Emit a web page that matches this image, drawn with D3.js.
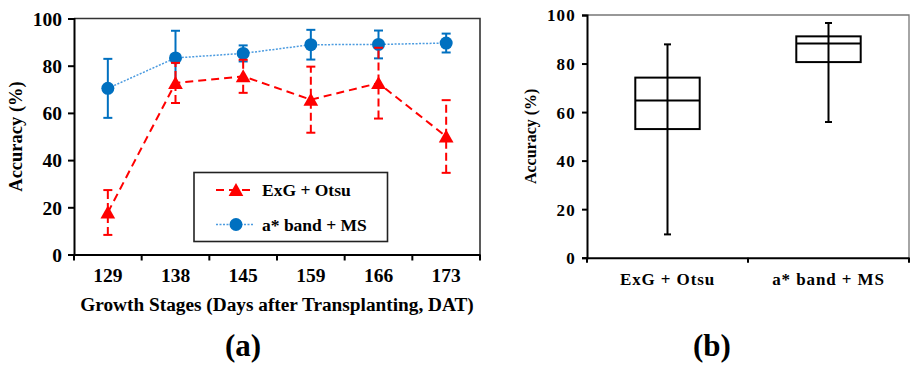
<!DOCTYPE html>
<html>
<head>
<meta charset="utf-8">
<script src="https://cdn.jsdelivr.net/npm/d3@7"></script>
<style>
  body { margin: 0; background: #fff; }
  svg text { font-family: "Liberation Serif", "Times New Roman", serif; font-weight: bold; fill: #000; }
</style>
</head>
<body>
<svg id="chart" width="910" height="365"></svg>
<script>
// panel (a) data
const stages = ["129", "138", "145", "159", "166", "173"];
const exgMean = [17.8, 72.7, 75.5, 65.6, 72.6, 50.0];
const exgSd = [9.5, 8.5, 7.0, 14.0, 15.0, 15.4];
const msMean = [70.4, 83.3, 85.2, 88.9, 89.0, 89.6];
const msSd = [12.5, 11.5, 3.4, 6.3, 5.9, 4.0];
const yTicks = [0, 20, 40, 60, 80, 100];

// panel (b) data
const methods = ["ExG + Otsu", "a* band + MS"];
const boxMin = [9.6, 55.9];
const boxQ1 = [53.0, 80.6];
const boxMedian = [64.8, 88.3];
const boxQ3 = [74.2, 91.2];
const boxMax = [87.9, 96.7];

const red = "#ff0000";
const blue = "#0070c0";
const blueLine = "#4b9be0";

const svg = d3.select("#chart");

// ---------- panel (a) ----------
const xA = d3.scaleBand().domain(stages).range([74, 480]);
const yA = d3.scaleLinear().domain([0, 100]).range([254.5, 18.5]);

const gA = svg.append("g");

// frame (top and right)
gA.append("path")
    .attr("d", `M${xA.range()[0]},${yA(100)}H${xA.range()[1]}V${yA(0)}`)
    .attr("fill", "none")
    .attr("stroke", "#333")
    .attr("stroke-width", 1.6);

// y axis
const yAxisA = gA.append("g")
    .attr("transform", `translate(${xA.range()[0]},0)`)
    .call(d3.axisLeft(yA).tickValues(yTicks).tickSize(6).tickPadding(6));
yAxisA.select(".domain").attr("stroke", "#000").attr("stroke-width", 2);
yAxisA.selectAll(".tick line").attr("stroke", "#000").attr("stroke-width", 2);
yAxisA.selectAll(".tick text").style("font-size", "19.5px").attr("dy", "0.35em");

// x axis (ticks between categories)
const xAxisA = gA.append("g")
    .attr("transform", `translate(0,${yA(0)})`)
    .call(d3.axisBottom(xA).tickSize(0).tickPadding(14));
xAxisA.select(".domain").attr("stroke", "#000").attr("stroke-width", 2);
xAxisA.selectAll(".tick text").style("font-size", "19.5px");
const bounds = stages.map(s => xA(s)).concat([xA.range()[1]]);
gA.selectAll(".xtickA")
    .data(bounds)
    .join("line")
    .attr("x1", d => d).attr("x2", d => d)
    .attr("y1", yA(0)).attr("y2", yA(0) + 6)
    .attr("stroke", "#000").attr("stroke-width", 2);

// axis titles
gA.append("text")
    .attr("transform", `translate(22,${(yA(0) + yA(100)) / 2}) rotate(-90)`)
    .attr("text-anchor", "middle")
    .style("font-size", "18.5px")
    .text("Accuracy (%)");
gA.append("text")
    .attr("x", 277).attr("y", 311)
    .attr("text-anchor", "middle")
    .style("font-size", "19.3px")
    .text("Growth Stages (Days after Transplanting, DAT)");
gA.append("text")
    .attr("x", 243).attr("y", 356)
    .attr("text-anchor", "middle")
    .style("font-size", "31px")
    .text("(a)");

const cx = s => xA(s) + xA.bandwidth() / 2;
const tri = (x, y, r) => `M${x},${y - r}L${x + r * 1.05},${y + r * 0.85}L${x - r * 1.05},${y + r * 0.85}Z`;

// series lines
const lineA = d3.line().x(d => cx(d.s)).y(d => yA(d.v));
const exgPts = stages.map((s, i) => ({ s, v: exgMean[i], sd: exgSd[i] }));
const msPts = stages.map((s, i) => ({ s, v: msMean[i], sd: msSd[i] }));

// MS error bars (solid)
const msErr = gA.append("g").selectAll("g").data(msPts).join("g");
msErr.append("line")
    .attr("x1", d => cx(d.s)).attr("x2", d => cx(d.s))
    .attr("y1", d => yA(d.v - d.sd)).attr("y2", d => yA(d.v + d.sd))
    .attr("stroke", blue).attr("stroke-width", 2);
msErr.selectAll(".cap")
    .data(d => [d.v - d.sd, d.v + d.sd].map(v => ({ s: d.s, v })))
    .join("line")
    .attr("x1", d => cx(d.s) - 4.5).attr("x2", d => cx(d.s) + 4.5)
    .attr("y1", d => yA(d.v)).attr("y2", d => yA(d.v))
    .attr("stroke", blue).attr("stroke-width", 2);

gA.append("path")
    .datum(msPts)
    .attr("d", lineA)
    .attr("fill", "none")
    .attr("stroke", blueLine)
    .attr("stroke-width", 1.5)
    .attr("stroke-dasharray", "2,1.5");

gA.append("g").selectAll("circle")
    .data(msPts)
    .join("circle")
    .attr("cx", d => cx(d.s)).attr("cy", d => yA(d.v))
    .attr("r", 6.5)
    .attr("fill", blue);

// ExG error bars (dashed)
const exgErr = gA.append("g").selectAll("g").data(exgPts).join("g");
exgErr.append("line")
    .attr("x1", d => cx(d.s)).attr("x2", d => cx(d.s))
    .attr("y1", d => yA(d.v - d.sd)).attr("y2", d => yA(d.v + d.sd))
    .attr("stroke", red).attr("stroke-width", 2).attr("stroke-dasharray", "8,4");
exgErr.selectAll(".cap")
    .data(d => [d.v - d.sd, d.v + d.sd].map(v => ({ s: d.s, v })))
    .join("line")
    .attr("x1", d => cx(d.s) - 4.5).attr("x2", d => cx(d.s) + 4.5)
    .attr("y1", d => yA(d.v)).attr("y2", d => yA(d.v))
    .attr("stroke", red).attr("stroke-width", 2);

gA.append("path")
    .datum(exgPts)
    .attr("d", lineA)
    .attr("fill", "none")
    .attr("stroke", red)
    .attr("stroke-width", 2)
    .attr("stroke-dasharray", "8,5");

gA.append("g").selectAll("path")
    .data(exgPts)
    .join("path")
    .attr("d", d => tri(cx(d.s), yA(d.v), 7))
    .attr("fill", red);

// legend
const leg = gA.append("g");
leg.append("rect")
    .attr("x", 194).attr("y", 172.5).attr("width", 193.5).attr("height", 69)
    .attr("fill", "#fff").attr("stroke", "#222").attr("stroke-width", 1.6);
leg.append("line")
    .attr("x1", 216).attr("x2", 254).attr("y1", 190).attr("y2", 190)
    .attr("stroke", red).attr("stroke-width", 2).attr("stroke-dasharray", "8,5");
leg.append("path").attr("d", tri(236, 190, 7)).attr("fill", red);
leg.append("text").attr("x", 262).attr("y", 196).style("font-size", "17.5px").text("ExG + Otsu");
leg.append("line")
    .attr("x1", 216).attr("x2", 254).attr("y1", 224.5).attr("y2", 224.5)
    .attr("stroke", blueLine).attr("stroke-width", 1.5).attr("stroke-dasharray", "2,1.5");
leg.append("circle").attr("cx", 236).attr("cy", 224.5).attr("r", 6.5).attr("fill", blue);
leg.append("text").attr("x", 262).attr("y", 230.5).style("font-size", "17.5px").text("a* band + MS");

// ---------- panel (b) ----------
const xB = d3.scaleBand().domain(methods).range([587, 909]);
const yB = d3.scaleLinear().domain([0, 100]).range([257.7, 15]);
const gB = svg.append("g");

gB.append("path")
    .attr("d", `M${xB.range()[0]},${yB(100)}H${xB.range()[1]}V${yB(0)}`)
    .attr("fill", "none")
    .attr("stroke", "#777")
    .attr("stroke-width", 1.3);

const yAxisB = gB.append("g")
    .attr("transform", `translate(${xB.range()[0]},0)`)
    .call(d3.axisLeft(yB).tickValues(yTicks).tickSize(5).tickPadding(6));
yAxisB.select(".domain").attr("stroke", "#000").attr("stroke-width", 2);
yAxisB.selectAll(".tick line").attr("stroke", "#000").attr("stroke-width", 2);
yAxisB.selectAll(".tick text").style("font-size", "17px").style("letter-spacing", "1.2px").attr("dy", "0.35em");

const xAxisB = gB.append("g")
    .attr("transform", `translate(0,${yB(0)})`)
    .call(d3.axisBottom(xB).tickSize(0).tickPadding(15));
xAxisB.select(".domain").attr("stroke", "#000").attr("stroke-width", 2);
xAxisB.selectAll(".tick text").style("font-size", "17px").style("letter-spacing", "0.9px");
gB.selectAll(".xtickB")
    .data(methods.map(m => xB(m)).concat([xB.range()[1]]))
    .join("line")
    .attr("x1", d => d).attr("x2", d => d)
    .attr("y1", yB(0)).attr("y2", yB(0) + 5)
    .attr("stroke", "#000").attr("stroke-width", 2);

gB.append("text")
    .attr("transform", `translate(536,${(yB(0) + yB(100)) / 2}) rotate(-90)`)
    .attr("text-anchor", "middle")
    .style("font-size", "16px")
    .text("Accuracy (%)");
gB.append("text")
    .attr("x", 712).attr("y", 356)
    .attr("text-anchor", "middle")
    .style("font-size", "31px")
    .text("(b)");

const boxes = methods.map((m, i) => ({
    m, min: boxMin[i], q1: boxQ1[i], med: boxMedian[i], q3: boxQ3[i], max: boxMax[i]
}));
const bw = xB.bandwidth() * 0.4;
const bc = d => xB(d.m) + xB.bandwidth() / 2;

const bg = gB.append("g").selectAll("g").data(boxes).join("g");
bg.append("line")
    .attr("x1", bc).attr("x2", bc)
    .attr("y1", d => yB(d.min)).attr("y2", d => yB(d.max))
    .attr("stroke", "#000").attr("stroke-width", 2);
bg.selectAll(".cap")
    .data(d => [d.min, d.max].map(v => ({ m: d.m, v })))
    .join("line")
    .attr("x1", d => bc(d) - 3.5).attr("x2", d => bc(d) + 3.5)
    .attr("y1", d => yB(d.v)).attr("y2", d => yB(d.v))
    .attr("stroke", "#000").attr("stroke-width", 2);
bg.append("rect")
    .attr("x", d => bc(d) - bw / 2)
    .attr("y", d => yB(d.q3))
    .attr("width", bw)
    .attr("height", d => yB(d.q1) - yB(d.q3))
    .attr("fill", "none")
    .attr("stroke", "#000").attr("stroke-width", 2);
bg.append("line")
    .attr("x1", d => bc(d) - bw / 2).attr("x2", d => bc(d) + bw / 2)
    .attr("y1", d => yB(d.med)).attr("y2", d => yB(d.med))
    .attr("stroke", "#000").attr("stroke-width", 2);
</script>
</body>
</html>
